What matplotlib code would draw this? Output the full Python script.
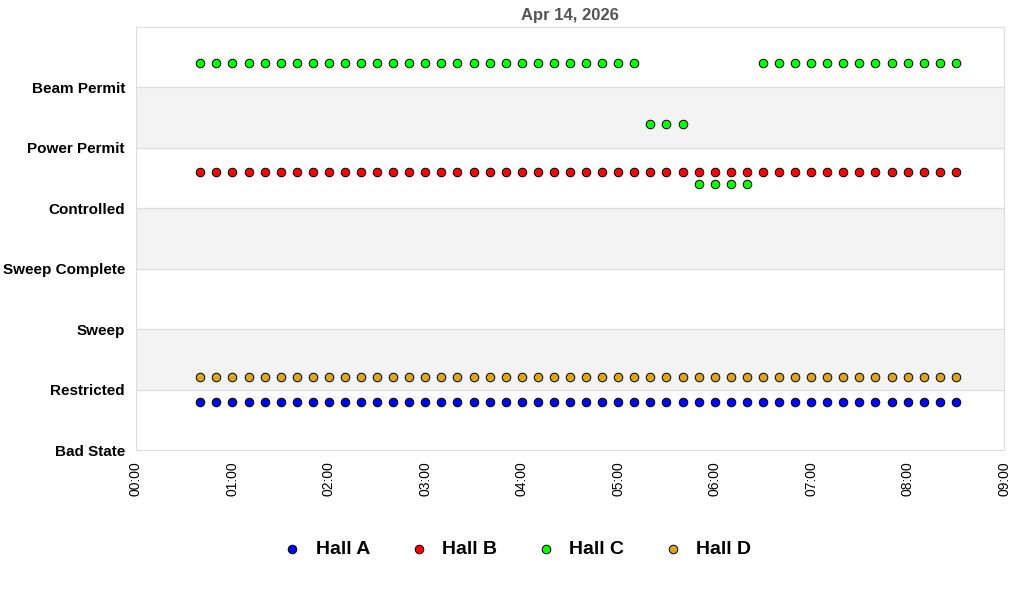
import matplotlib.pyplot as plt
import matplotlib.dates as mdates
from datetime import datetime, timedelta

plt.rcParams['font.family'] = ['Liberation Sans', 'DejaVu Sans']

STATES = ["Bad State", "Restricted", "Sweep", "Sweep Complete",
          "Controlled", "Power Permit", "Beam Permit"]
HALLS = ["Hall A", "Hall B", "Hall C", "Hall D"]
COLORS = ["#0000ff", "#ff0000", "#00ff00", "#daa520"]
OFFSETS = [-0.2, -0.4, 0.4, 0.2]

# samples every 10 minutes, 00:40 .. 08:30
day = datetime(2026, 4, 14)
times = [day + timedelta(minutes=40 + 10 * i) for i in range(48)]

hall_a = [1] * 48
hall_b = [5] * 48
hall_c = [6] * 28 + [5] * 3 + [4] * 4 + [6] * 13
hall_d = [1] * 48
series = [hall_a, hall_b, hall_c, hall_d]

fig = plt.figure(figsize=(10.24, 6.0), dpi=100)
ax = fig.add_axes([0.1328, 0.25, 0.8477, 0.705])

for lo in (1, 3, 5):
    ax.axhspan(lo, lo + 1, color="#f3f3f3", zorder=0)
for y in range(1, 7):
    ax.axhline(y, color="#dddddd", lw=0.8, zorder=1)

for name, col, off, vals in zip(HALLS, COLORS, OFFSETS, series):
    ax.scatter(times, [v + off for v in vals], s=38, c=col,
               edgecolors="black", linewidths=0.7, zorder=3, label=name)

ax.set_ylim(0, 7)
ax.set_yticks(range(7))
ax.set_yticklabels(STATES, fontweight="bold", fontsize=11)
ax.set_xlim(day, day + timedelta(hours=9))
ax.xaxis.set_major_locator(mdates.HourLocator())
ax.xaxis.set_major_formatter(mdates.DateFormatter("%H:%M"))
plt.setp(ax.get_xticklabels(), rotation=90, fontsize=10)
ax.tick_params(length=0, pad=8)
for s in ax.spines.values():
    s.set_color("#dddddd")
ax.set_title("Apr 14, 2026", fontweight="bold", color="#555555", fontsize=12, pad=5)

fig.legend(loc="lower center", bbox_to_anchor=(0.5, 0.04), ncol=4, frameon=False,
           prop={"weight": "bold", "size": 14}, handletextpad=0.2, columnspacing=1.5)

fig.savefig("out.png")
